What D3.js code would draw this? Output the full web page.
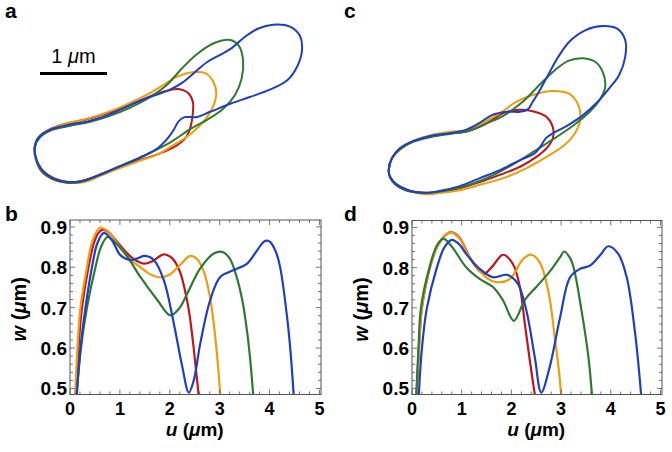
<!DOCTYPE html>
<html><head><meta charset="utf-8">
<script src="https://cdn.jsdelivr.net/npm/d3@7"></script>
<style>body{margin:0;background:#fff}svg{display:block}</style>
</head><body>
<script>
// ---------- series ----------
const seriesNames = ["red", "orange", "green", "blue"];
const seriesColors = ["#c0141c", "#f29b0c", "#2f7a32", "#1d3fc4"];

// ---------- cell outlines, panel a (µm, y downward) ----------
const outlineA_red = [[0.07,1.91],[0.13,1.75],[0.30,1.63],[0.52,1.55],[0.82,1.49],[1.12,1.40],[1.42,1.30],[1.69,1.18],[1.99,1.07],[2.21,1.03],[2.36,1.09],[2.43,1.22],[2.43,1.39],[2.40,1.58],[2.33,1.75],[2.18,1.88],[1.94,1.99],[1.64,2.09],[1.34,2.19],[1.04,2.31],[0.82,2.39],[0.60,2.42],[0.37,2.37],[0.19,2.25],[0.09,2.09]];
const outlineA_orange = [[0.07,1.93],[0.13,1.76],[0.30,1.64],[0.52,1.55],[0.82,1.48],[1.12,1.39],[1.42,1.27],[1.79,1.09],[1.99,0.97],[2.19,0.85],[2.43,0.78],[2.61,0.79],[2.73,0.91],[2.78,1.09],[2.73,1.30],[2.64,1.45],[2.51,1.60],[2.33,1.75],[2.12,1.88],[1.90,2.01],[1.64,2.10],[1.34,2.21],[1.04,2.33],[0.81,2.42],[0.60,2.43],[0.37,2.39],[0.18,2.27],[0.09,2.10]];
const outlineA_green = [[0.07,1.90],[0.15,1.75],[0.33,1.64],[0.60,1.58],[0.90,1.52],[1.19,1.43],[1.49,1.31],[1.79,1.15],[2.04,0.97],[2.27,0.72],[2.49,0.51],[2.76,0.34],[2.99,0.30],[3.12,0.39],[3.18,0.60],[3.16,0.87],[3.06,1.12],[2.88,1.33],[2.66,1.48],[2.39,1.63],[2.12,1.81],[1.82,1.97],[1.57,2.09],[1.27,2.21],[0.97,2.34],[0.75,2.42],[0.54,2.43],[0.33,2.37],[0.16,2.24],[0.09,2.07]];
const outlineA_blue = [[0.07,1.90],[0.13,1.75],[0.30,1.64],[0.55,1.57],[0.87,1.51],[1.16,1.42],[1.49,1.27],[1.79,1.15],[2.09,1.04],[2.28,0.93],[2.46,0.78],[2.64,0.63],[2.84,0.52],[3.01,0.42],[3.21,0.25],[3.40,0.13],[3.63,0.07],[3.88,0.10],[4.03,0.24],[4.06,0.45],[3.99,0.69],[3.84,0.90],[3.58,1.04],[3.28,1.15],[2.99,1.25],[2.69,1.37],[2.48,1.45],[2.31,1.45],[2.22,1.51],[2.15,1.63],[2.06,1.76],[1.91,1.91],[1.69,2.03],[1.42,2.15],[1.12,2.28],[0.82,2.39],[0.63,2.42],[0.42,2.39],[0.22,2.28],[0.10,2.09]];

// ---------- cell outlines, panel c ----------
const outlineC_red = [[0.13,2.24],[0.18,2.06],[0.30,1.93],[0.49,1.81],[0.75,1.73],[1.04,1.69],[1.31,1.66],[1.52,1.58],[1.69,1.48],[1.84,1.39],[2.09,1.34],[2.31,1.37],[2.49,1.45],[2.58,1.60],[2.58,1.76],[2.49,1.91],[2.34,2.04],[2.09,2.19],[1.79,2.31],[1.49,2.42],[1.19,2.51],[0.90,2.57],[0.67,2.58],[0.42,2.54],[0.24,2.45],[0.15,2.34]];
const outlineC_orange = [[0.13,2.24],[0.18,2.06],[0.30,1.93],[0.49,1.81],[0.75,1.72],[1.04,1.67],[1.31,1.64],[1.52,1.54],[1.79,1.39],[2.04,1.22],[2.28,1.12],[2.58,1.06],[2.82,1.10],[2.96,1.27],[2.99,1.48],[2.91,1.69],[2.75,1.87],[2.49,2.04],[2.19,2.21],[1.84,2.36],[1.49,2.46],[1.19,2.54],[0.90,2.58],[0.67,2.60],[0.42,2.55],[0.24,2.46],[0.15,2.36]];
const outlineC_green = [[0.13,2.24],[0.18,2.06],[0.30,1.93],[0.49,1.82],[0.75,1.75],[1.04,1.70],[1.31,1.66],[1.57,1.55],[1.84,1.43],[2.13,1.22],[2.39,0.96],[2.61,0.75],[2.81,0.61],[3.03,0.57],[3.22,0.63],[3.33,0.79],[3.36,1.01],[3.28,1.19],[3.13,1.37],[2.93,1.54],[2.63,1.75],[2.33,1.94],[2.03,2.13],[1.72,2.30],[1.42,2.43],[1.12,2.52],[0.82,2.57],[0.60,2.58],[0.37,2.54],[0.22,2.45],[0.15,2.34]];
const outlineC_blue = [[0.13,2.24],[0.18,2.06],[0.30,1.91],[0.49,1.81],[0.75,1.73],[1.04,1.69],[1.28,1.64],[1.48,1.54],[1.67,1.42],[1.90,1.37],[2.09,1.37],[2.21,1.33],[2.28,1.22],[2.39,1.04],[2.51,0.82],[2.66,0.55],[2.84,0.31],[3.07,0.15],[3.33,0.09],[3.54,0.13],[3.66,0.30],[3.66,0.55],[3.57,0.82],[3.43,1.01],[3.25,1.22],[3.03,1.42],[2.79,1.58],[2.58,1.69],[2.48,1.76],[2.40,1.88],[2.31,1.99],[2.09,2.09],[1.79,2.24],[1.49,2.36],[1.19,2.48],[0.90,2.55],[0.67,2.58],[0.42,2.54],[0.24,2.45],[0.15,2.34]];

// ---------- width profiles, panel b ----------
const uB_red    = [0.11,0.17,0.24,0.37,0.48,0.57,0.66,0.78,0.95,1.12,1.28,1.48,1.65,1.88,2.05,2.2,2.3,2.38,2.46,2.53,2.59];
const wB_red    = [0.47,0.6,0.7,0.8,0.86,0.885,0.893,0.886,0.862,0.838,0.82,0.809,0.815,0.832,0.822,0.79,0.745,0.695,0.62,0.54,0.47];
const uB_orange = [0.1,0.15,0.21,0.34,0.45,0.6,0.75,1.0,1.2,1.41,1.6,1.8,2.0,2.2,2.41,2.55,2.68,2.8,2.9,2.97,3.02];
const wB_orange = [0.47,0.6,0.7,0.8,0.865,0.898,0.89,0.85,0.82,0.8,0.783,0.775,0.782,0.805,0.828,0.82,0.79,0.73,0.64,0.55,0.47];
const uB_green  = [0.12,0.22,0.34,0.51,0.62,0.75,0.9,1.15,1.41,1.75,2.01,2.2,2.35,2.61,2.88,3.05,3.2,3.33,3.45,3.55,3.62,3.68];
const wB_green  = [0.47,0.6,0.7,0.8,0.85,0.875,0.862,0.826,0.776,0.719,0.681,0.7,0.735,0.797,0.834,0.838,0.822,0.78,0.72,0.64,0.56,0.47];
const uB_blue   = [0.13,0.21,0.31,0.44,0.55,0.68,0.85,1.01,1.21,1.35,1.5,1.68,1.88,2.08,2.25,2.38,2.48,2.61,2.81,3.01,3.28,3.55,3.75,3.88,3.95,4.01,4.12,4.21,4.35,4.42,4.49];
const wB_blue   = [0.47,0.6,0.7,0.8,0.86,0.885,0.865,0.83,0.818,0.822,0.828,0.818,0.768,0.661,0.554,0.49,0.52,0.611,0.719,0.776,0.793,0.809,0.842,0.863,0.866,0.863,0.84,0.801,0.677,0.59,0.47];

// ---------- width profiles, panel d ----------
const uD_red    = [0.09,0.14,0.2,0.36,0.5,0.65,0.79,0.95,1.16,1.3,1.45,1.63,1.83,2.03,2.17,2.27,2.37,2.44,2.49];
const wD_red    = [0.47,0.6,0.7,0.8,0.85,0.878,0.888,0.875,0.826,0.8,0.785,0.805,0.832,0.809,0.752,0.661,0.57,0.51,0.47];
const uD_orange = [0.09,0.14,0.2,0.36,0.5,0.65,0.77,0.95,1.16,1.49,1.7,1.97,2.24,2.4,2.57,2.74,2.88,2.96,3.01];
const wD_orange = [0.47,0.6,0.7,0.8,0.85,0.878,0.888,0.873,0.826,0.776,0.764,0.772,0.822,0.832,0.813,0.743,0.62,0.54,0.47];
const uD_green  = [0.08,0.13,0.18,0.35,0.5,0.63,0.75,0.86,1.09,1.36,1.63,1.83,2.05,2.27,2.5,2.77,2.98,3.06,3.17,3.25,3.41,3.55,3.63];
const wD_green  = [0.47,0.6,0.7,0.8,0.855,0.872,0.86,0.842,0.801,0.772,0.752,0.719,0.668,0.72,0.752,0.79,0.826,0.84,0.826,0.801,0.694,0.578,0.47];
const uD_blue   = [0.13,0.2,0.3,0.5,0.65,0.8,0.95,1.09,1.36,1.63,1.92,2.13,2.3,2.47,2.6,2.77,2.98,3.18,3.38,3.58,3.78,3.95,4.15,4.32,4.49,4.62];
const wD_blue   = [0.47,0.6,0.7,0.8,0.85,0.869,0.858,0.834,0.797,0.776,0.782,0.76,0.694,0.578,0.49,0.553,0.677,0.776,0.797,0.805,0.83,0.853,0.834,0.776,0.636,0.47];

// ---------- axes ----------
const xTicks = [0, 1, 2, 3, 4, 5];
const yTicks = [0.5, 0.6, 0.7, 0.8, 0.9];
const xTickLabels = ["0", "1", "2", "3", "4", "5"];
const yTickLabels = ["0.5", "0.6", "0.7", "0.8", "0.9"];
const xDomain = [0, 5.03];
const yDomain = [0.485, 0.917];
const scaleBarLength = 1; // µm

// ---------- drawing ----------
const W = 672, H = 452;
const svg = d3.select("body").append("svg").attr("width", W).attr("height", H);
const FONT = "'Liberation Sans', Arial, Helvetica, sans-serif";

function panelLetter(t, x, y) {
  svg.append("text").attr("x", x).attr("y", y).text(t)
    .attr("font-family", FONT).attr("font-weight", "bold").attr("font-size", 21).attr("fill", "#000");
}

// outline panels
const pxPerUm = 67;
function outlinePanel(ox, oy, outlines) {
  const sx = d3.scaleLinear().domain([0, 1]).range([ox, ox + pxPerUm]);
  const sy = d3.scaleLinear().domain([0, 1]).range([oy, oy + pxPerUm]);
  const line = d3.line().x(d => sx(d[0])).y(d => sy(d[1])).curve(d3.curveCatmullRomClosed.alpha(0.5));
  outlines.forEach((pts, i) => {
    svg.append("path").attr("d", line(pts)).attr("fill", "none")
      .attr("stroke", seriesColors[i]).attr("stroke-width", 2).attr("stroke-linejoin", "round");
  });
  return sx;
}
const sxA = outlinePanel(30, 20, [outlineA_red, outlineA_orange, outlineA_green, outlineA_blue]);
outlinePanel(380, 20, [outlineC_red, outlineC_orange, outlineC_green, outlineC_blue]);

// scale bar (1 µm) in panel a
{
  const x0 = 40, x1 = x0 + (sxA(scaleBarLength) - sxA(0));
  svg.append("line").attr("x1", x0).attr("x2", x1).attr("y1", 73.5).attr("y2", 73.5)
    .attr("stroke", "#000").attr("stroke-width", 3);
  const t = svg.append("text").attr("x", (x0 + x1) / 2).attr("y", 63).attr("text-anchor", "middle")
    .attr("font-family", FONT).attr("font-size", 20).attr("fill", "#000");
  t.append("tspan").text("1 ");
  t.append("tspan").attr("font-style", "italic").text("μ");
  t.append("tspan").text("m");
}

// width profile panels
let clipId = 0;
function profilePanel(left, right, top, bottom, series) {
  const x = d3.scaleLinear().domain(xDomain).range([left, right]);
  const y = d3.scaleLinear().domain(yDomain).range([bottom, top]);
  const g = svg.append("g");
  const id = "clip" + (clipId++);
  svg.append("clipPath").attr("id", id).append("rect")
    .attr("x", left).attr("y", top).attr("width", right - left).attr("height", bottom - top);

  const line = d3.line().x(d => x(d[0])).y(d => y(d[1])).curve(d3.curveCatmullRom.alpha(0.5));
  const lg = g.append("g").attr("clip-path", `url(#${id})`);
  series.forEach((s, i) => {
    const pts = s[0].map((u, k) => [u, s[1][k]]);
    lg.append("path").attr("d", line(pts)).attr("fill", "none")
      .attr("stroke", seriesColors[i]).attr("stroke-width", 2.2).attr("stroke-linejoin", "round");
  });

  const tc = "#555";
  const xMinor = d3.range(0, 5.001, 0.2);
  xMinor.forEach(v => {
    const major = Math.abs(v - Math.round(v)) < 1e-6;
    const len = major ? 5 : 3;
    const px = x(v);
    g.append("line").attr("x1", px).attr("x2", px).attr("y1", bottom).attr("y2", bottom - len).attr("stroke", tc).attr("stroke-width", 0.8);
    g.append("line").attr("x1", px).attr("x2", px).attr("y1", top).attr("y2", top + len).attr("stroke", tc).attr("stroke-width", 0.8);
  });
  const yMinor = d3.range(0.5, 0.9001, 0.02);
  yMinor.forEach(v => {
    const major = Math.abs(v * 10 - Math.round(v * 10)) < 1e-6;
    const len = major ? 5 : 3;
    const py = y(v);
    g.append("line").attr("x1", left).attr("x2", left + len).attr("y1", py).attr("y2", py).attr("stroke", tc).attr("stroke-width", 0.8);
    g.append("line").attr("x1", right).attr("x2", right - len).attr("y1", py).attr("y2", py).attr("stroke", tc).attr("stroke-width", 0.8);
  });
  g.append("rect").attr("x", left).attr("y", top).attr("width", right - left).attr("height", bottom - top)
    .attr("fill", "none").attr("stroke", tc).attr("stroke-width", 1);

  // tick labels
  xTicks.forEach((v, i) => {
    g.append("text").attr("x", x(v)).attr("y", bottom + 20).attr("text-anchor", "middle")
      .attr("font-family", FONT).attr("font-weight", "bold").attr("font-size", 18).attr("fill", "#000")
      .text(xTickLabels[i]);
  });
  yTicks.forEach((v, i) => {
    g.append("text").attr("x", left - 3).attr("y", y(v) + 7).attr("text-anchor", "end")
      .attr("font-family", FONT).attr("font-weight", "bold").attr("font-size", 19).attr("fill", "#000")
      .text(yTickLabels[i]);
  });

  // axis titles
  const xt = g.append("text").attr("x", (x(0) + x(5)) / 2).attr("y", bottom + 41).attr("text-anchor", "middle")
    .attr("font-family", FONT).attr("font-weight", "bold").attr("font-size", 19).attr("fill", "#000");
  xt.append("tspan").attr("font-style", "italic").text("u");
  xt.append("tspan").text(" (");
  xt.append("tspan").attr("font-style", "italic").text("μ");
  xt.append("tspan").text("m)");

  const yt = g.append("text").attr("transform", `translate(${left - 44},${(top + bottom) / 2 + 2}) rotate(-90)`)
    .attr("text-anchor", "middle")
    .attr("font-family", FONT).attr("font-weight", "bold").attr("font-size", 20).attr("fill", "#000");
  yt.append("tspan").attr("font-style", "italic").text("w");
  yt.append("tspan").text(" (");
  yt.append("tspan").attr("font-style", "italic").text("μ");
  yt.append("tspan").text("m)");
}

profilePanel(70, 321, 220, 394.5, [[uB_red, wB_red], [uB_orange, wB_orange], [uB_green, wB_green], [uB_blue, wB_blue]]);
profilePanel(412, 662, 220.5, 394.5, [[uD_red, wD_red], [uD_orange, wD_orange], [uD_green, wD_green], [uD_blue, wD_blue]]);

panelLetter("a", 5, 18);
panelLetter("b", 5, 221);
panelLetter("c", 344, 18);
panelLetter("d", 344, 221);
</script>
</body></html>
